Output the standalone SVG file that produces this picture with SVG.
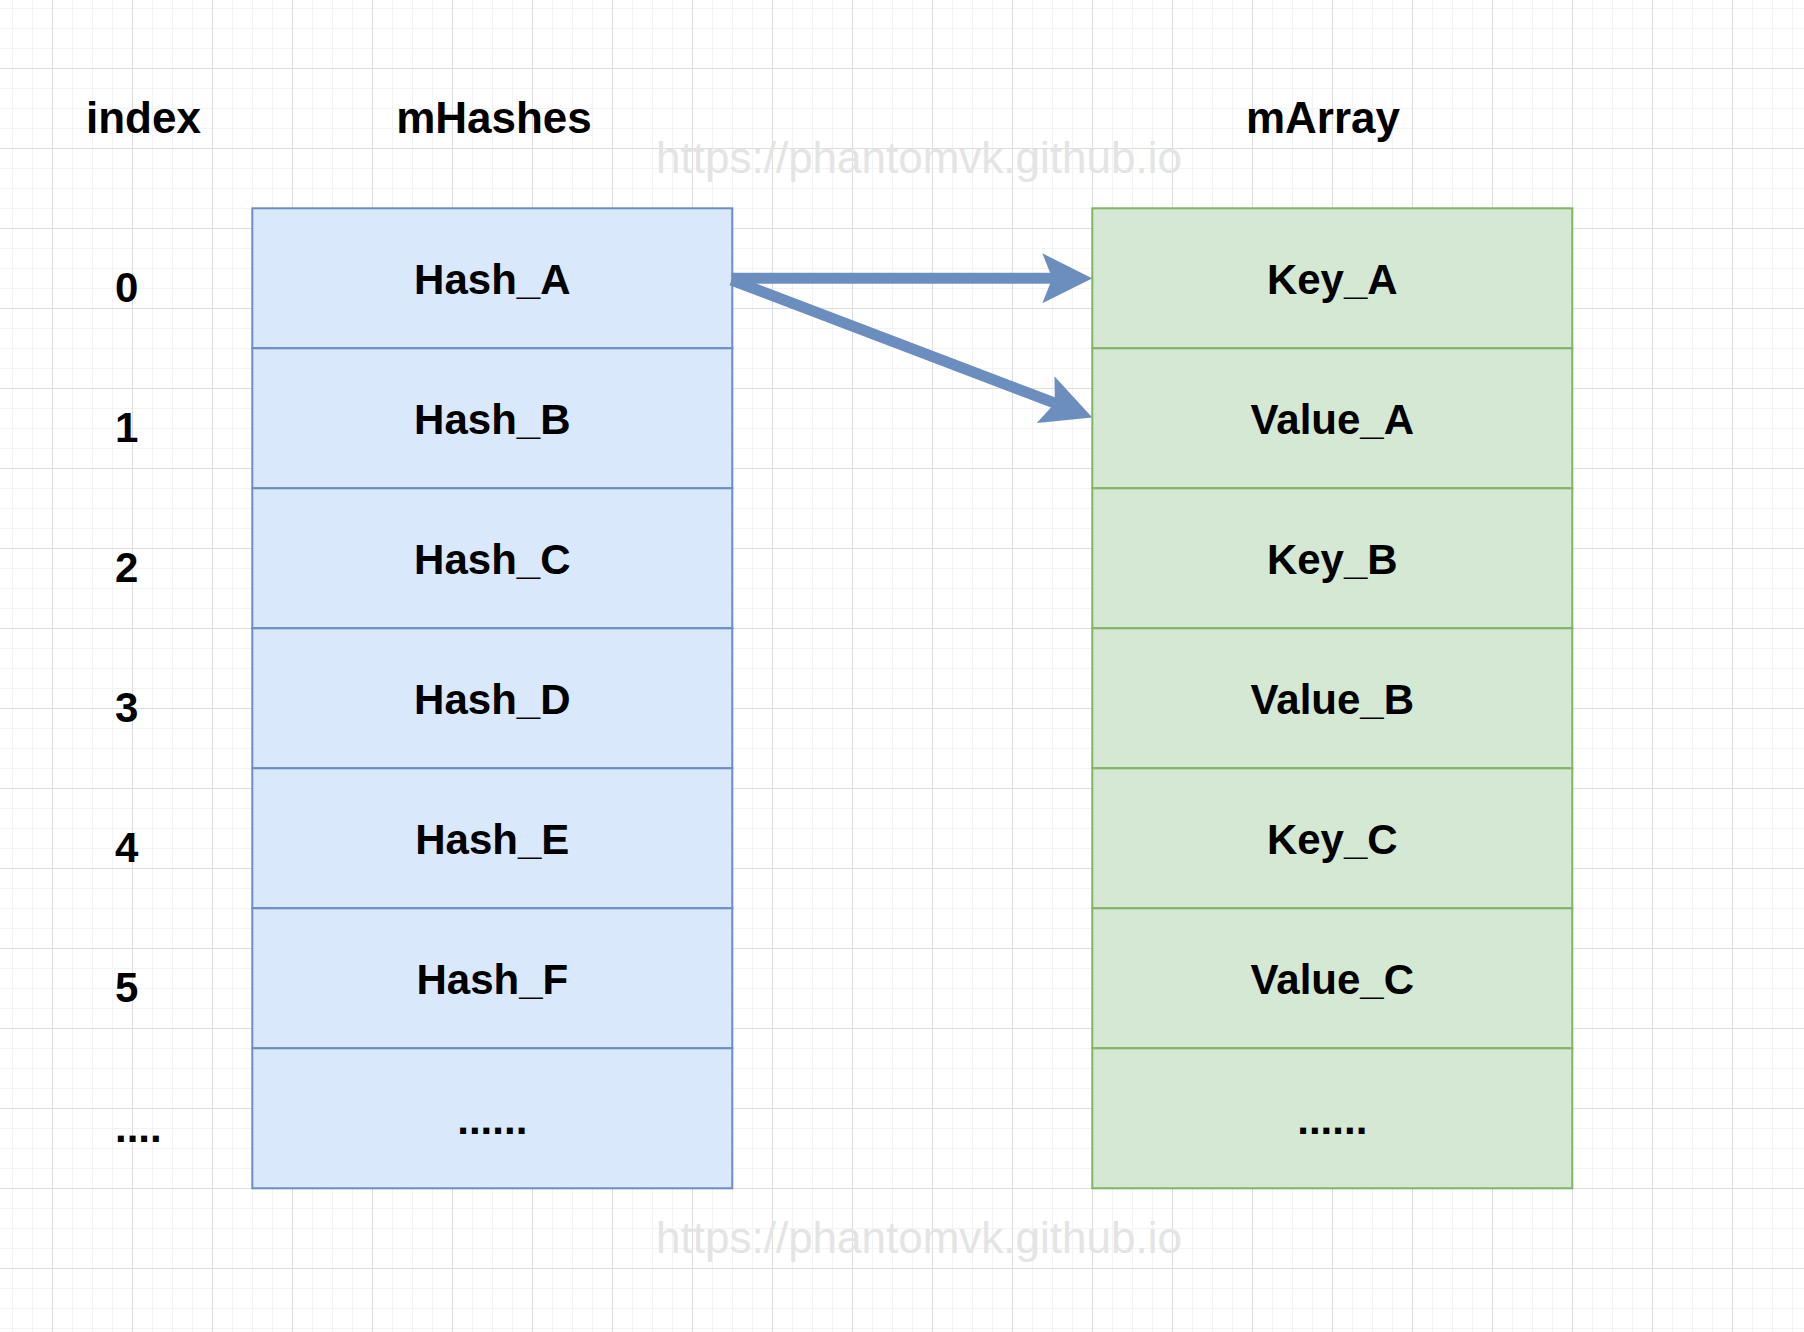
<svg xmlns="http://www.w3.org/2000/svg" width="1804" height="1332" viewBox="0 0 1804 1332">
<style>
.hdr{font-family:"Liberation Sans",Arial,Helvetica,sans-serif;font-weight:bold;font-size:44px;fill:#000}
.lbl{font-family:"Liberation Sans",Arial,Helvetica,sans-serif;font-weight:bold;font-size:42px;fill:#000;text-anchor:middle}
.idx{font-family:"Liberation Sans",Arial,Helvetica,sans-serif;font-weight:bold;font-size:42px;fill:#000}
.wm{font-family:"Liberation Sans",Arial,Helvetica,sans-serif;font-size:44px;fill:#e4e4e4;text-anchor:middle}
.blue{fill:#dae8fc;stroke:#6c8ebf;stroke-width:2}
.green{fill:#d5e8d4;stroke:#82b366;stroke-width:2}
.edge{fill:none;stroke:#6c8ebf;stroke-width:11}
</style>
<defs>
<pattern id="grid" patternUnits="userSpaceOnUse" x="52" y="68" width="80" height="80">
<rect x="20" y="0" width="1" height="80" fill="#f3f3f3"/>
<rect x="40" y="0" width="1" height="80" fill="#f3f3f3"/>
<rect x="60" y="0" width="1" height="80" fill="#f3f3f3"/>
<rect x="0" y="20" width="80" height="1" fill="#f3f3f3"/>
<rect x="0" y="40" width="80" height="1" fill="#f3f3f3"/>
<rect x="0" y="60" width="80" height="1" fill="#f3f3f3"/>
<rect x="0" y="0" width="1" height="80" fill="#dddddd"/>
<rect x="0" y="0" width="80" height="1" fill="#dddddd"/>
</pattern>
<marker id="arrow" markerUnits="userSpaceOnUse" viewBox="0 0 50 50" markerWidth="50" markerHeight="50" refX="10" refY="25" orient="auto">
<path d="M0,0 L50,25 L0,50 L10,25 Z" fill="#6c8ebf"/>
</marker>
</defs>
<rect x="0" y="0" width="1804" height="1332" fill="#ffffff"/>
<rect x="0" y="0" width="1804" height="1332" fill="url(#grid)"/>

<g id="watermarks">
<text class="wm" x="919" y="173">https://phantomvk.github.io</text>
<text class="wm" x="919" y="1253">https://phantomvk.github.io</text>
</g>

<g id="headers">
<text class="hdr" x="86" y="133">index</text>
<text class="hdr" x="494" y="133" text-anchor="middle">mHashes</text>
<text class="hdr" x="1323" y="133" text-anchor="middle">mArray</text>
</g>

<g id="index">
<text class="idx" x="115" y="302">0</text>
<text class="idx" x="115" y="442">1</text>
<text class="idx" x="115" y="582">2</text>
<text class="idx" x="115" y="722">3</text>
<text class="idx" x="115" y="862">4</text>
<text class="idx" x="115" y="1002">5</text>
<text class="idx" x="115" y="1142">....</text>
</g>

<g id="mHashes">
<g id="hash_a"><rect class="blue" x="252.3" y="208.3" width="480" height="140"/><text class="lbl" x="492.3" y="294.3">Hash_A</text></g>
<g id="hash_b"><rect class="blue" x="252.3" y="348.3" width="480" height="140"/><text class="lbl" x="492.3" y="434.3">Hash_B</text></g>
<g id="hash_c"><rect class="blue" x="252.3" y="488.3" width="480" height="140"/><text class="lbl" x="492.3" y="574.3">Hash_C</text></g>
<g id="hash_d"><rect class="blue" x="252.3" y="628.3" width="480" height="140"/><text class="lbl" x="492.3" y="714.3">Hash_D</text></g>
<g id="hash_e"><rect class="blue" x="252.3" y="768.3" width="480" height="140"/><text class="lbl" x="492.3" y="854.3">Hash_E</text></g>
<g id="hash_f"><rect class="blue" x="252.3" y="908.3" width="480" height="140"/><text class="lbl" x="492.3" y="994.3">Hash_F</text></g>
<g id="hash_more"><rect class="blue" x="252.3" y="1048.3" width="480" height="140"/><text class="lbl" x="492.3" y="1134.3">......</text></g>
</g>

<g id="mArray">
<g id="key_a"><rect class="green" x="1092.3" y="208.3" width="480" height="140"/><text class="lbl" x="1332.3" y="294.3">Key_A</text></g>
<g id="value_a"><rect class="green" x="1092.3" y="348.3" width="480" height="140"/><text class="lbl" x="1332.3" y="434.3">Value_A</text></g>
<g id="key_b"><rect class="green" x="1092.3" y="488.3" width="480" height="140"/><text class="lbl" x="1332.3" y="574.3">Key_B</text></g>
<g id="value_b"><rect class="green" x="1092.3" y="628.3" width="480" height="140"/><text class="lbl" x="1332.3" y="714.3">Value_B</text></g>
<g id="key_c"><rect class="green" x="1092.3" y="768.3" width="480" height="140"/><text class="lbl" x="1332.3" y="854.3">Key_C</text></g>
<g id="value_c"><rect class="green" x="1092.3" y="908.3" width="480" height="140"/><text class="lbl" x="1332.3" y="994.3">Value_C</text></g>
<g id="array_more"><rect class="green" x="1092.3" y="1048.3" width="480" height="140"/><text class="lbl" x="1332.3" y="1134.3">......</text></g>
</g>

<g id="connectors">
<path class="edge" d="M731.5,280 L1054.9,403.2" marker-end="url(#arrow)"/>
<path class="edge" d="M731.5,278.3 L1052.3,278.3" marker-end="url(#arrow)"/>
</g>
</svg>
